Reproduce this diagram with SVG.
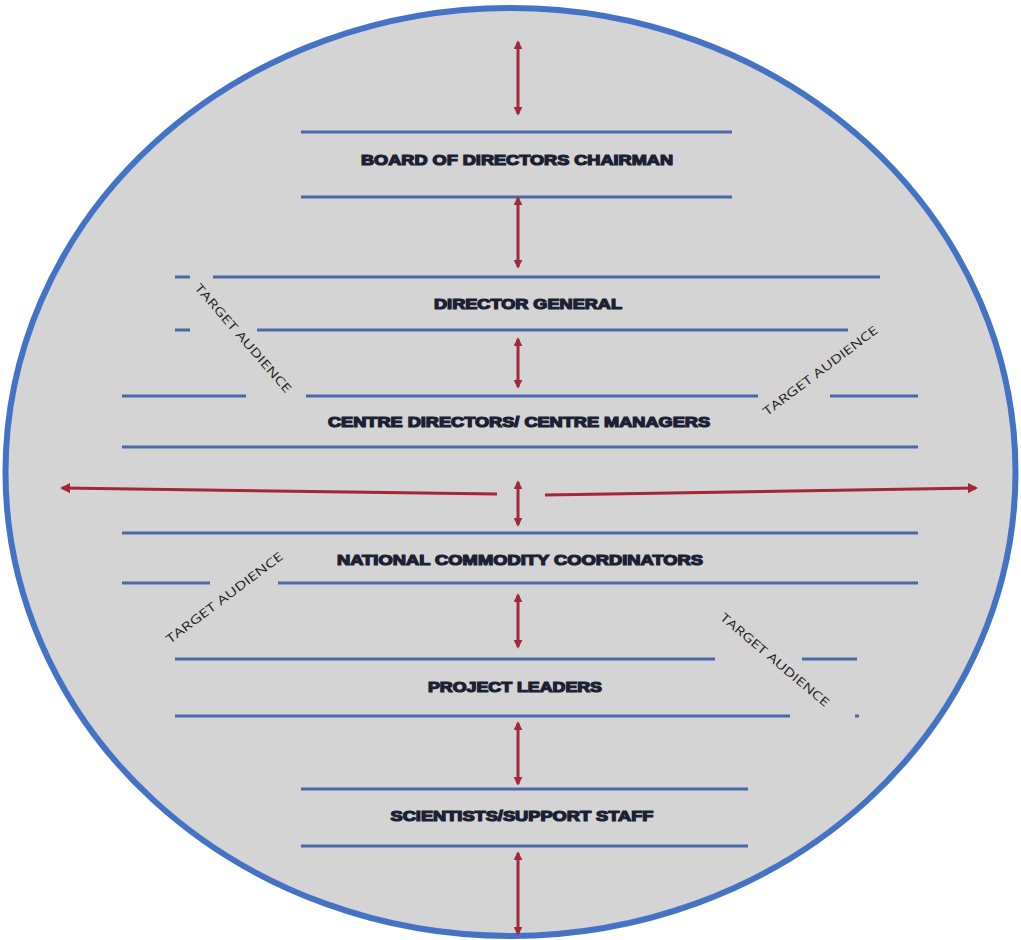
<svg xmlns="http://www.w3.org/2000/svg" width="1021" height="940" viewBox="0 0 1021 940">
<style>
.ln{stroke:#4c68a6;stroke-width:3;fill:none}
.ar{stroke:#9e2a3c;stroke-width:3;fill:none;marker-start:url(#ah);marker-end:url(#ah)}
.ha{stroke:#a52636;stroke-width:3;fill:none;marker-end:url(#ah2)}
.lb{font-family:"Liberation Sans",Arial,sans-serif;font-weight:bold;font-size:14px;fill:#1b2133;stroke:#1b2133;stroke-width:1.2;text-anchor:middle}
.ta{font-family:"Open Sans","Liberation Sans",sans-serif;font-size:12px;fill:#222;text-anchor:middle}
</style>
<defs>
<marker id="ah" viewBox="0 0 10 10" refX="8" refY="5" markerWidth="3" markerHeight="3" orient="auto-start-reverse"><path d="M0,0 L10,5 L0,10 z" fill="#9e2a3c"/></marker>
<marker id="ah2" viewBox="0 0 10 10" refX="8" refY="5" markerWidth="3.5" markerHeight="3.5" orient="auto"><path d="M0,0 L10,5 L0,10 z" fill="#a52636"/></marker>
</defs>
<rect width="1021" height="940" fill="#ffffff"/>
<ellipse cx="510.5" cy="472" rx="505" ry="464" fill="#d4d4d4" stroke="#4472c4" stroke-width="6"/>

<g id="board">
<line class="ln" x1="301" y1="132" x2="732" y2="132"/>
<line class="ln" x1="301" y1="197" x2="732" y2="197"/>
<text class="lb" x="517" y="165" textLength="312" lengthAdjust="spacingAndGlyphs">BOARD OF DIRECTORS CHAIRMAN</text>
</g>
<g id="director-general">
<line class="ln" x1="175" y1="277" x2="190" y2="277"/>
<line class="ln" x1="213" y1="277" x2="880" y2="277"/>
<line class="ln" x1="175" y1="330" x2="190" y2="330"/>
<line class="ln" x1="257" y1="330" x2="848" y2="330"/>
<text class="lb" x="528" y="309" textLength="188" lengthAdjust="spacingAndGlyphs">DIRECTOR GENERAL</text>
</g>
<g id="centre-directors">
<line class="ln" x1="122" y1="396" x2="246" y2="396"/>
<line class="ln" x1="306" y1="396" x2="758" y2="396"/>
<line class="ln" x1="830" y1="396" x2="918" y2="396"/>
<line class="ln" x1="122" y1="447" x2="918" y2="447"/>
<text class="lb" x="519" y="427" textLength="382" lengthAdjust="spacingAndGlyphs">CENTRE DIRECTORS/ CENTRE MANAGERS</text>
</g>
<g id="national-commodity">
<line class="ln" x1="122" y1="533" x2="918" y2="533"/>
<line class="ln" x1="122" y1="583" x2="210" y2="583"/>
<line class="ln" x1="278" y1="583" x2="918" y2="583"/>
<text class="lb" x="520" y="565" textLength="366" lengthAdjust="spacingAndGlyphs">NATIONAL COMMODITY COORDINATORS</text>
</g>
<g id="project-leaders">
<line class="ln" x1="175" y1="659" x2="715" y2="659"/>
<line class="ln" x1="802" y1="659" x2="857" y2="659"/>
<line class="ln" x1="175" y1="716" x2="790" y2="716"/>
<line class="ln" x1="855" y1="716" x2="859" y2="716"/>
<text class="lb" x="515" y="692" textLength="174" lengthAdjust="spacingAndGlyphs">PROJECT LEADERS</text>
</g>
<g id="scientists">
<line class="ln" x1="301" y1="789" x2="748" y2="789"/>
<line class="ln" x1="301" y1="846" x2="748" y2="846"/>
<text class="lb" x="522" y="821" textLength="263" lengthAdjust="spacingAndGlyphs">SCIENTISTS/SUPPORT STAFF</text>
</g>

<g id="target-audience">
<text class="ta" transform="translate(240,341) rotate(49)" textLength="140" lengthAdjust="spacingAndGlyphs">TARGET AUDIENCE</text>
<text class="ta" transform="translate(823,374) rotate(-37)" textLength="140" lengthAdjust="spacingAndGlyphs">TARGET AUDIENCE</text>
<text class="ta" transform="translate(227,601) rotate(-37)" textLength="143" lengthAdjust="spacingAndGlyphs">TARGET AUDIENCE</text>
<text class="ta" transform="translate(772,663) rotate(40)" textLength="138" lengthAdjust="spacingAndGlyphs">TARGET AUDIENCE</text>
</g>

<g id="connectors">
<line class="ar" x1="518" y1="42" x2="518" y2="114"/>
<line class="ar" x1="518" y1="198" x2="518" y2="267"/>
<line class="ar" x1="518" y1="339" x2="518" y2="387"/>
<line class="ar" x1="518" y1="482" x2="518" y2="525"/>
<line class="ar" x1="518" y1="595" x2="518" y2="647"/>
<line class="ar" x1="518" y1="723" x2="518" y2="784"/>
<line class="ar" x1="518" y1="853" x2="518" y2="934"/>
<line class="ha" x1="497" y1="494" x2="62" y2="488"/>
<line class="ha" x1="545" y1="495" x2="976" y2="488"/>
</g>
</svg>
